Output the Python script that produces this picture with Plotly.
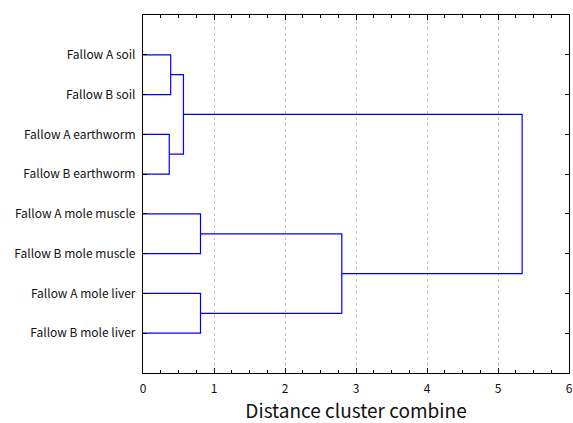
import plotly.graph_objects as go

labels = ["Fallow A soil", "Fallow B soil", "Fallow A earthworm", "Fallow B earthworm",
          "Fallow A mole muscle", "Fallow B mole muscle", "Fallow A mole liver", "Fallow B mole liver"]
# merges: (left node, right node, height); leaves 0..7, new clusters 8..
merge_left = [0, 2, 8, 4, 6, 11, 10]
merge_right = [1, 3, 9, 5, 7, 12, 13]
merge_height = [0.39, 0.37, 0.57, 0.81, 0.81, 2.80, 5.34]

leaf_pos = list(range(1, len(labels) + 1))
pos = {i: (0.0, leaf_pos[i]) for i in range(len(labels))}

fig = go.Figure()
xs, ys = [], []
for k, (a, b, h) in enumerate(zip(merge_left, merge_right, merge_height)):
    xa, ya = pos[a]
    xb, yb = pos[b]
    xs += [xa, h, h, xb, None]
    ys += [ya, ya, yb, yb, None]
    pos[len(labels) + k] = (h, (ya + yb) / 2)

fig.add_trace(go.Scatter(x=xs, y=ys, mode="lines",
                         line=dict(color="#0000FF", width=1.2),
                         hoverinfo="skip", showlegend=False))

fig.update_layout(
    width=573, height=423,
    margin=dict(l=143, r=0, t=15, b=48),
    paper_bgcolor="white", plot_bgcolor="white",
    font=dict(family="Noto Sans CJK JP, Noto Sans, DejaVu Sans, sans-serif", color="#111111", size=12),
    xaxis=dict(range=[0, 6], tickvals=[0, 1, 2, 3, 4, 5, 6], ticks="inside", ticklen=5,
               tickcolor="black", showline=True, linecolor="black", linewidth=1.2, mirror="ticks",
               showgrid=True, gridcolor="#c8c8c8", griddash="dot", gridwidth=1,
               zeroline=False, tickfont=dict(size=12), ticklabeloverflow="allow",
               ticklabelstandoff=4,
               minor=dict(dtick=0.25, ticks="inside", ticklen=3, tickcolor="black", showgrid=False),
               title=dict(text="Distance cluster combine", font=dict(size=19), standoff=14)),
    yaxis=dict(range=[9, 0], tickvals=leaf_pos, ticktext=labels, ticks="inside", ticklen=4,
               tickcolor="black", showline=True, linecolor="black", linewidth=1.2, mirror="ticks",
               showgrid=False, zeroline=False, tickfont=dict(size=12), ticklabelstandoff=4),
)

fig.write_html("out.html", config={"displayModeBar": False},
               post_script="document.body.style.margin='0';document.body.style.overflow='hidden';")
